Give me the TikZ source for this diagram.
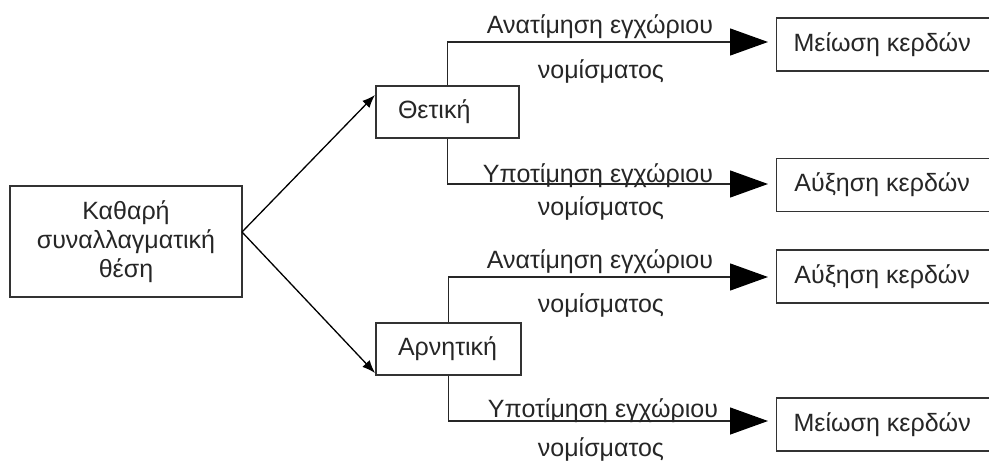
\documentclass[tikz,border=0pt]{standalone}
\usepackage{fontspec}
\setmainfont{Liberation Sans}
\usetikzlibrary{arrows.meta}
\begin{document}
\begin{tikzpicture}[x=1pt,y=-1pt,
  every node/.style={font=\fontsize{25}{29}\selectfont, text=black!85},
  box/.style={draw=black!80, line width=1.4pt, inner sep=0pt, fill=white},
  midbox/.style={box, minimum height=52pt, text width=#1, align=left, inner xsep=22pt},
  endbox/.style={box, minimum width=230pt, minimum height=53pt, anchor=west},
  lbl/.style={anchor=base, inner sep=0pt},
  small/.style={draw=black, line width=1.3pt, -{Latex[length=13pt,width=10pt]}},
  big/.style={draw=black!85, line width=1.3pt, -{Triangle[length=38pt,width=27pt,fill=black,color=black]}, shorten >=8pt}
]
\clip (0,0) rectangle (989,461);
\fill[white] (0,0) rectangle (989,461);

\node[box, minimum width=232pt, minimum height=111pt, align=center] (root) at (126,241.5)
  {Καθαρή\\συναλλαγματική\\θέση};

\node[midbox=99pt] (pos) at (447.5,112) {Θετική};
\node[midbox=101pt] (neg) at (448.5,349) {Αρνητική};

\node[endbox] (r1) at (776,44.5) {\hspace*{1pt}Μείωση κερδών\hspace*{20pt}};
\node[endbox] (r2) at (776,185) {\hspace*{1pt}Αύξηση κερδών\hspace*{20pt}};
\node[endbox] (r3) at (776,276.5) {\hspace*{1pt}Αύξηση κερδών\hspace*{20pt}};
\node[endbox] (r4) at (776,424.5) {\hspace*{1pt}Μείωση κερδών\hspace*{20pt}};

\coordinate (src) at (242,232);
\coordinate (t1) at (375,95);
\coordinate (t2) at (375,373);
\draw[small] (src) -- (t1);
\draw[small] (src) -- (t2);

\coordinate (e1) at (776,42);
\coordinate (e2) at (776,184);
\coordinate (e3) at (776,277);
\coordinate (e4) at (776,421);
\draw[big] (pos.north) |- (e1);
\draw[big] (pos.south) |- (e2);
\draw[big] (neg.north) |- (e3);
\draw[big] (neg.south) |- (e4);

\node[lbl] (l1) at (600,33) {Ανατίμηση εγχώριου};
\node[lbl] (l1b) at (601,78) {νομίσματος};
\node[lbl] (l2) at (598,182) {Υποτίμηση εγχώριου};
\node[lbl] (l2b) at (601,215) {νομίσματος};
\node[lbl] (l3) at (600,268) {Ανατίμηση εγχώριου};
\node[lbl] (l3b) at (601,312) {νομίσματος};
\node[lbl] (l4) at (603,417) {Υποτίμηση εγχώριου};
\node[lbl] (l4b) at (601,456) {νομίσματος};
\end{tikzpicture}
\end{document}
